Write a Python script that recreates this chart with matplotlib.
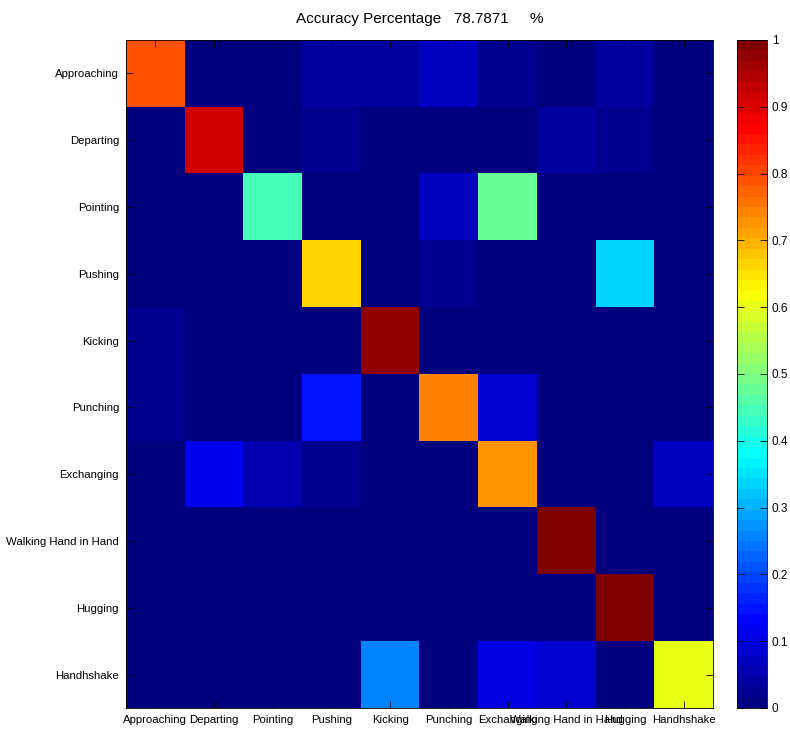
import numpy as np
import matplotlib.pyplot as plt
from matplotlib.colors import LinearSegmentedColormap

classes = ['Approaching', 'Departing', 'Pointing', 'Pushing', 'Kicking',
           'Punching', 'Exchanging', 'Walking Hand in Hand', 'Hugging', 'Handhshake']

# normalised confusion matrix, rows = true class, cols = predicted
cm_approaching = [0.79371, 0.01, 0.01, 0.04, 0.04, 0.075, 0.025, 0.01, 0.04, 0.00]
cm_departing   = [0.00, 0.92, 0.00, 0.03, 0.00, 0.00, 0.00, 0.045, 0.025, 0.00]
cm_pointing    = [0.00, 0.00, 0.45, 0.00, 0.00, 0.07, 0.48, 0.00, 0.00, 0.00]
cm_pushing     = [0.00, 0.00, 0.00, 0.66, 0.00, 0.02, 0.00, 0.00, 0.34, 0.00]
cm_kicking     = [0.02, 0.00, 0.00, 0.00, 0.98, 0.00, 0.00, 0.00, 0.00, 0.00]
cm_punching    = [0.02, 0.00, 0.00, 0.155, 0.00, 0.74, 0.09, 0.01, 0.00, 0.00]
cm_exchanging  = [0.00, 0.11, 0.05, 0.025, 0.00, 0.00, 0.73, 0.01, 0.00, 0.075]
cm_walking     = [0.00, 0.00, 0.00, 0.00, 0.00, 0.00, 0.00, 1.00, 0.00, 0.00]
cm_hugging     = [0.00, 0.00, 0.00, 0.00, 0.00, 0.00, 0.00, 0.00, 1.00, 0.00]
cm_handshake   = [0.00, 0.00, 0.00, 0.00, 0.25, 0.00, 0.10, 0.09, 0.00, 0.605]

cm = np.array([cm_approaching, cm_departing, cm_pointing, cm_pushing, cm_kicking,
               cm_punching, cm_exchanging, cm_walking, cm_hugging, cm_handshake])
acc = 100 * np.mean(np.diag(cm))

# matlab-style jet, 64 levels
jet64 = LinearSegmentedColormap.from_list('jet64', [
    (0.0, (0, 0, 0.5)), (0.125, (0, 0, 1)), (0.375, (0, 1, 1)),
    (0.625, (1, 1, 0)), (0.875, (1, 0, 0)), (1.0, (0.5, 0, 0))], N=64)

plt.rcParams['font.family'] = ['Liberation Sans', 'DejaVu Sans']

fig = plt.figure(figsize=(7.9, 7.33), dpi=100)
ax = fig.add_axes([126/790, 1-708/733, (713-126)/790, (708-40)/733])
cax = fig.add_axes([737/790, 1-708/733, 30/790, (708-40)/733])

im = ax.imshow(cm, cmap=jet64, vmin=0, vmax=1,
               aspect='auto', interpolation='nearest')

ax.set_xticks(range(len(classes)))
ax.set_yticks(range(len(classes)))
ax.set_xticklabels(classes, fontsize=8.2)
ax.set_yticklabels(classes, fontsize=8.2)
ax.tick_params(direction='in', top=True, right=True, length=5, width=0.6, pad=5)
for s in ax.spines.values():
    s.set_linewidth(0.6)
ax.set_title('Accuracy Percentage   %.4f     %%' % acc, fontsize=11, pad=12)

cb = fig.colorbar(im, cax=cax, ticks=np.arange(0, 1.01, 0.1))
cb.ax.set_yticklabels(['0', '0.1', '0.2', '0.3', '0.4', '0.5', '0.6', '0.7', '0.8', '0.9', '1'])
cb.ax.tick_params(direction='in', length=5, width=0.6, labelsize=8.5, left=True)
cb.outline.set_linewidth(0.6)

fig.savefig('out.png', dpi=100)
